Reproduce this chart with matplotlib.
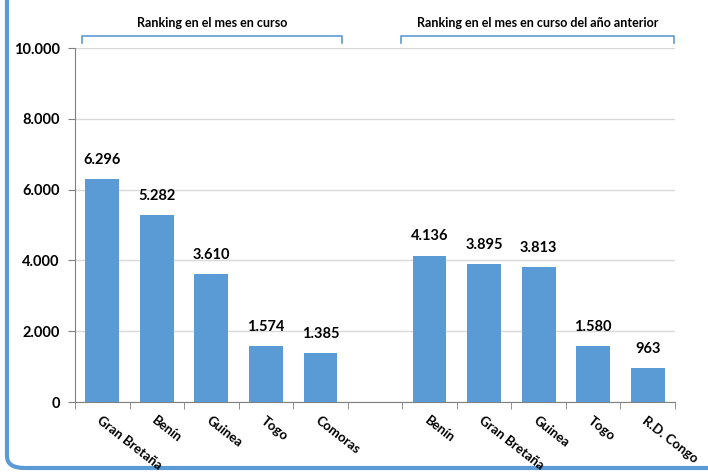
import matplotlib
matplotlib.use('Agg')
import matplotlib.pyplot as plt
from matplotlib.patches import FancyBboxPatch
from matplotlib.ticker import FuncFormatter
import numpy as np

# datos
paises_actual = ['Gran Bretaña', 'Benín', 'Guinea', 'Togo', 'Comoras']
valores_actual = [6296, 5282, 3610, 1574, 1385]
paises_anterior = ['Benín', 'Gran Bretaña', 'Guinea', 'Togo', 'R.D. Congo']
valores_anterior = [4136, 3895, 3813, 1580, 963]
titulo_actual = 'Ranking en el mes en curso'
titulo_anterior = 'Ranking en el mes en curso del año anterior'

azul = '#5B9BD5'
plt.rcParams['font.family'] = ['Lato', 'DejaVu Sans']
plt.rcParams['font.weight'] = 'bold'


def miles(v, pos=None):
    return f'{int(v):,}'.replace(',', '.')


fig = plt.figure(figsize=(7.08, 4.72), dpi=100)
ax = fig.add_axes([75 / 708, 1 - 402 / 472, 600 / 708, 354 / 472])

etiquetas = paises_actual + [''] + paises_anterior
valores = valores_actual + [np.nan] + valores_anterior
x = np.arange(len(etiquetas))
ax.bar(x, valores, width=0.62, color=azul, zorder=3)

for xi, v in zip(x, valores):
    if not np.isnan(v):
        ax.text(xi, v + 350, miles(v), ha='center', va='bottom',
                fontsize=10.5, fontweight='bold')

ax.set_xlim(-0.5, len(etiquetas) - 0.5)
ax.set_ylim(0, 10000)
ax.set_yticks(np.arange(0, 10001, 2000))
ax.yaxis.set_major_formatter(FuncFormatter(miles))
ax.yaxis.grid(True, color='#D9D9D9', linewidth=1, zorder=0)

ax.set_xticks(x)
ax.set_xticklabels(etiquetas, rotation=-38, ha='left', va='top',
                   rotation_mode='anchor', fontsize=9.5, fontweight='bold')
ax.set_xticks(np.arange(-0.5, len(etiquetas)), minor=True)
ax.tick_params(axis='x', which='major', length=0, pad=9)
ax.tick_params(axis='x', which='minor', length=5, color='#808080')
ax.tick_params(axis='y', length=5, color='#808080', labelsize=10.5, pad=6)
for lab in ax.get_yticklabels():
    lab.set_fontweight('bold')
for lab in ax.get_xticklabels():
    lab.set_clip_on(False)

for s in ['top', 'right']:
    ax.spines[s].set_visible(False)
ax.spines['left'].set_color('#808080')
ax.spines['bottom'].set_color('#808080')

# corchetes
def corchete(x0, x1, texto):
    y0, y1 = 1 - 43 / 472, 1 - 36 / 472
    fig.add_artist(plt.Line2D([x0, x0, x1, x1], [y0, y1, y1, y0],
                              color=azul, linewidth=1.2))
    fig.text((x0 + x1) / 2, 1 - 29 / 472, texto, ha='center', va='bottom',
             fontsize=9, fontweight='bold')

corchete(82 / 708, 342 / 708, titulo_actual)
corchete(401 / 708, 674 / 708, titulo_anterior)

# marco redondeado
marco = FancyBboxPatch((7 / 708, 4 / 472), 1.2, 1.2,
                       boxstyle='round,pad=0,rounding_size=0.025',
                       transform=fig.transFigure, facecolor='none',
                       edgecolor=azul, linewidth=3, zorder=-1)
fig.add_artist(marco)

fig.savefig('out.png', dpi=100)
